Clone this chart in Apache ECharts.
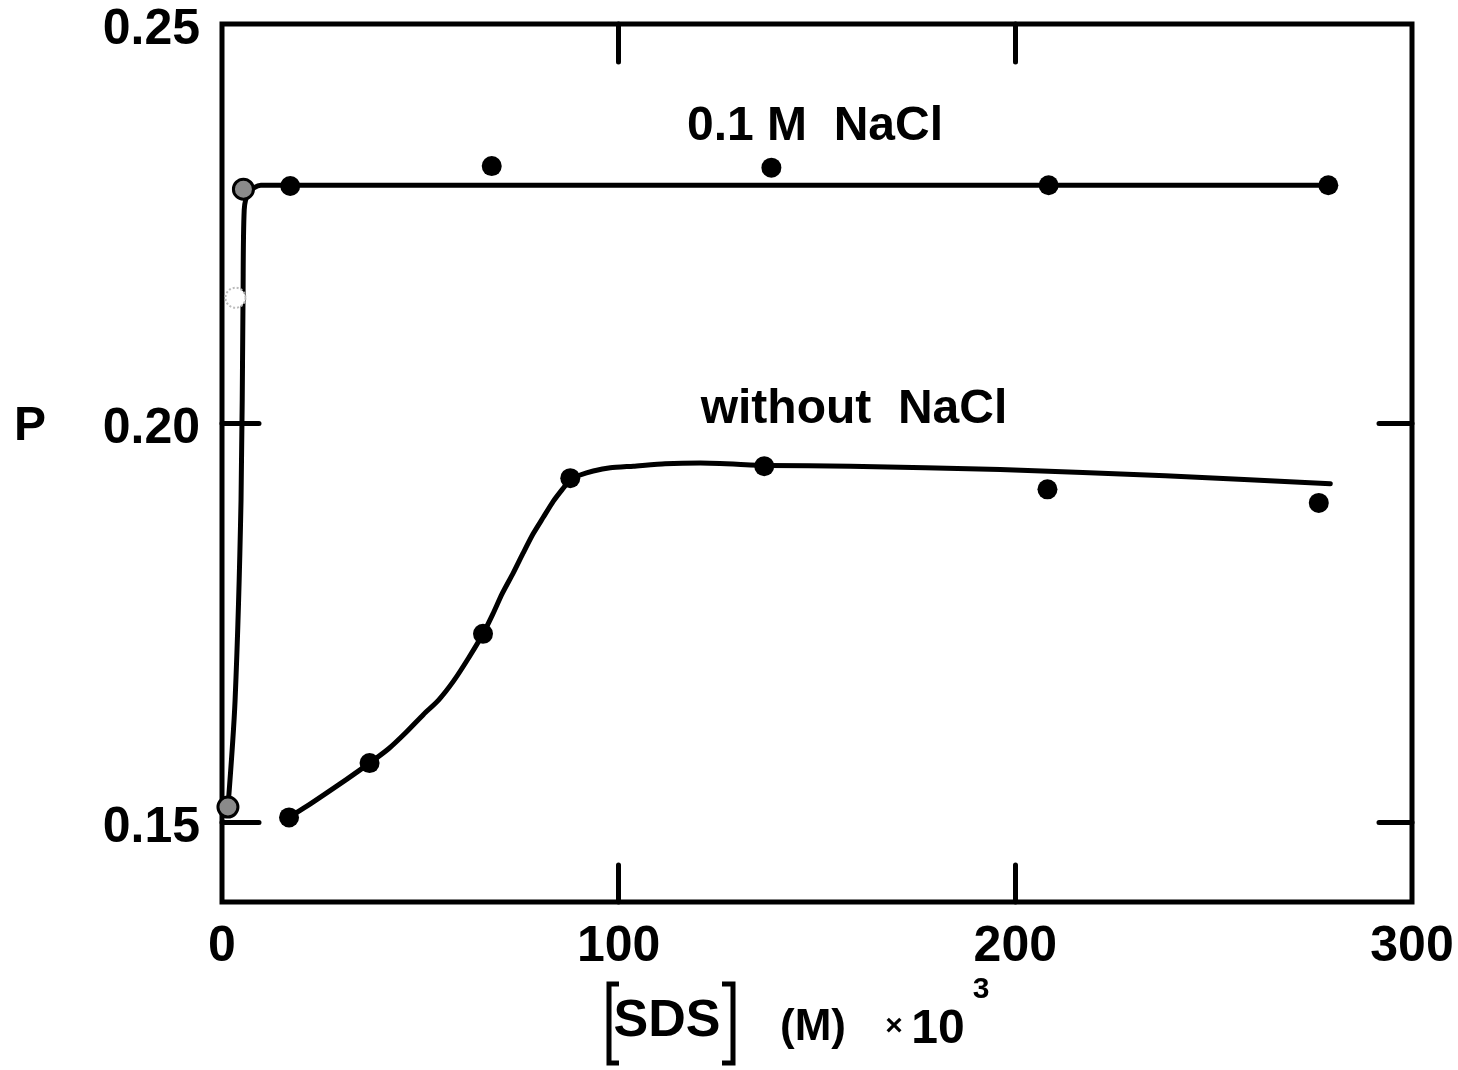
<!DOCTYPE html>
<html>
<head>
<meta charset="utf-8">
<script src="https://cdn.jsdelivr.net/npm/echarts@6/dist/echarts.min.js"></script>
<style>
  html, body { margin: 0; padding: 0; background: #fff; }
  #chart { width: 1458px; height: 1070px; }
</style>
</head>
<body>
<div id="chart"></div>
<script>
// Measured points: polarization P vs. [SDS] (M x 10^3)
const saltSDS = [1.5, 3.4, 5.4, 17.2, 68, 138.5, 208.4, 278.9];
const saltP   = [0.1519, 0.2157, 0.2293, 0.2297, 0.2322, 0.2320, 0.2298, 0.2298];

const plainSDS = [16.9, 37.2, 65.8, 87.8, 136.7, 208.1, 276.5];
const plainP   = [0.1506, 0.1574, 0.1736, 0.1931, 0.1946, 0.1917, 0.1900];

// Hand-drawn trend curves traced through the data
const saltCurveSDS = [1.5, 3.3, 4.8, 5.3, 5.6, 6.8, 9.8, 16.6, 80, 160, 279.5];
const saltCurveP   = [0.1519, 0.1653, 0.1904, 0.2155, 0.2267, 0.2289, 0.2298, 0.2298, 0.2298, 0.2298, 0.2298];

const plainCurveSDS = [16.9, 21.4, 26.5, 31.5, 37.2, 42.0, 46.3, 50.8, 54.6, 58.4, 62.2, 65.8,
                       68.3, 70.6, 73.4, 75.9, 78.4, 81.0, 83.5, 85.8, 87.8, 90.3, 93.6, 97.9,
                       103.7, 111.7, 120.6, 137.5, 158.4, 196.2, 237.8, 279.4];
const plainCurveP   = [0.1506, 0.1520, 0.1537, 0.1554, 0.1574, 0.1592, 0.1612, 0.1635, 0.1653, 0.1677, 0.1706, 0.1736,
                       0.1761, 0.1786, 0.1812, 0.1837, 0.1861, 0.1882, 0.1902, 0.1917, 0.1929, 0.1935, 0.1940, 0.1944,
                       0.1946, 0.1949, 0.1950, 0.1947, 0.1946, 0.1942, 0.1934, 0.1924];

const xTickLabels = [0, 100, 200, 300];
const xInnerTicks = [100, 200];
const yTickLabels = [0.15, 0.20, 0.25];
const yInnerTicks = [0.15, 0.20];

const zip = (a, b) => a.map((v, i) => [v, b[i]]);

const FONT = 'Liberation Sans';
const tickStyle = { color: '#000', width: 5, cap: 'round' };
const hiddenLine = { show: false, onZero: false };

// point styles: the lowest-SDS salt points are open/pale circles
const saltData = zip(saltSDS, saltP).map((p, i) => {
  if (i === 0 || i === 2) return { value: p, itemStyle: { color: '#8a8a8a', borderColor: '#000', borderWidth: 3 } };
  if (i === 1) return { value: p, itemStyle: { color: '#fff', borderColor: '#bbb', borderWidth: 2, borderType: 'dotted' } };
  return { value: p };
});

const chart = echarts.init(document.getElementById('chart'), null, { renderer: 'canvas' });

chart.setOption({
  backgroundColor: '#fff',
  animation: false,
  grid: {
    left: 222, right: 46, top: 24, bottom: 168,
    show: true, borderColor: '#000', borderWidth: 5, backgroundColor: 'transparent'
  },
  xAxis: [
    {
      type: 'value', min: 0, max: 300, position: 'bottom',
      axisLine: hiddenLine, splitLine: { show: false },
      axisTick: { show: true, inside: true, length: 37, customValues: xInnerTicks, lineStyle: tickStyle },
      axisLabel: { show: true, customValues: xTickLabels, margin: 20, color: '#000',
        fontFamily: FONT, fontWeight: 'bold', fontSize: 50 }
    },
    {
      type: 'value', min: 0, max: 300, position: 'top',
      axisLine: hiddenLine, splitLine: { show: false },
      axisTick: { show: true, inside: true, length: 38, customValues: xInnerTicks, lineStyle: tickStyle },
      axisLabel: { show: false }
    }
  ],
  yAxis: [
    {
      type: 'value', min: 0.14, max: 0.25, position: 'left',
      axisLine: hiddenLine, splitLine: { show: false },
      axisTick: { show: true, inside: true, length: 37, customValues: yInnerTicks, lineStyle: tickStyle },
      axisLabel: { show: true, customValues: yTickLabels, margin: 22, color: '#000',
        formatter: v => '{t|' + v.toFixed(2) + '}',
        rich: { t: { fontFamily: FONT, fontWeight: 'bold', fontSize: 50, color: '#000', padding: [12, 0, 0, 0] } } }
    },
    {
      type: 'value', min: 0.14, max: 0.25, position: 'right',
      axisLine: hiddenLine, splitLine: { show: false },
      axisTick: { show: true, inside: true, length: 33, customValues: yInnerTicks, lineStyle: tickStyle },
      axisLabel: { show: false }
    }
  ],
  series: [
    {
      name: '0.1 M NaCl curve', type: 'line', data: zip(saltCurveSDS, saltCurveP),
      smooth: 0.3, showSymbol: false, symbol: 'none',
      lineStyle: { color: '#000', width: 5, cap: 'round', join: 'round' }, z: 2
    },
    {
      name: 'without NaCl curve', type: 'line', data: zip(plainCurveSDS, plainCurveP),
      smooth: 0.2, showSymbol: false, symbol: 'none',
      lineStyle: { color: '#000', width: 5, cap: 'round', join: 'round' }, z: 2
    },
    {
      name: '0.1 M NaCl', type: 'scatter', data: saltData,
      symbol: 'circle', symbolSize: 20, itemStyle: { color: '#000', opacity: 1 }, z: 3
    },
    {
      name: 'without NaCl', type: 'scatter', data: zip(plainSDS, plainP),
      symbol: 'circle', symbolSize: 20, itemStyle: { color: '#000', opacity: 1 }, z: 3
    }
  ],
  graphic: [
    { type: 'text', x: 815, y: 127,
      style: { text: '0.1 M  NaCl', font: `bold 48px "${FONT}"`, fill: '#000', align: 'center', verticalAlign: 'middle' } },
    { type: 'text', x: 854, y: 410,
      style: { text: 'without  NaCl', font: `bold 48px "${FONT}"`, fill: '#000', align: 'center', verticalAlign: 'middle' } },
    { type: 'text', x: 30, y: 427,
      style: { text: 'P', font: `bold 48px "${FONT}"`, fill: '#000', align: 'center', verticalAlign: 'middle' } },
    // x-axis title: [SDS] (M) × 10^3
    { type: 'polyline', shape: { points: [[619, 984], [609, 984], [609, 1063], [619, 1063]] },
      style: { stroke: '#000', lineWidth: 5, fill: null } },
    { type: 'text', x: 667, y: 1022,
      style: { text: 'SDS', font: `bold 52px "${FONT}"`, fill: '#000', align: 'center', verticalAlign: 'middle' } },
    { type: 'polyline', shape: { points: [[722, 984], [733, 984], [733, 1063], [722, 1063]] },
      style: { stroke: '#000', lineWidth: 5, fill: null } },
    { type: 'text', x: 813, y: 1028,
      style: { text: '(M)', font: `bold 44px "${FONT}"`, fill: '#000', align: 'center', verticalAlign: 'middle' } },
    { type: 'text', x: 894, y: 1027,
      style: { text: '×', font: `bold 30px "${FONT}"`, fill: '#000', align: 'center', verticalAlign: 'middle' } },
    { type: 'text', x: 938, y: 1030,
      style: { text: '10', font: `bold 48px "${FONT}"`, fill: '#000', align: 'center', verticalAlign: 'middle' } },
    { type: 'text', x: 981, y: 990,
      style: { text: '3', font: `bold 30px "${FONT}"`, fill: '#000', align: 'center', verticalAlign: 'middle' } }
  ]
});
</script>
</body>
</html>
